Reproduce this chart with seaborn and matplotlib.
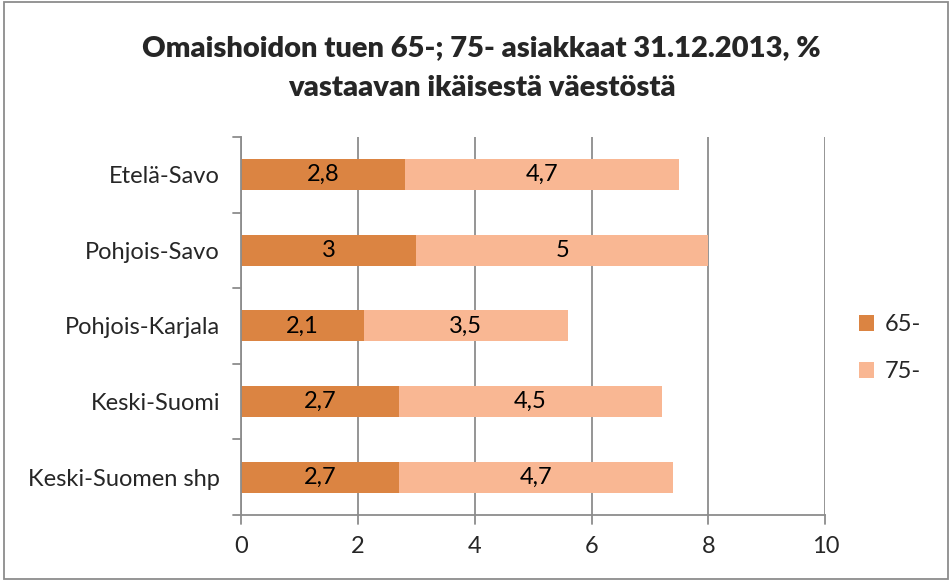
import matplotlib
matplotlib.use("Agg")
import matplotlib.pyplot as plt
import seaborn as sns
import pandas as pd
from matplotlib.patches import Patch, Rectangle

categories = ["Etelä-Savo", "Pohjois-Savo", "Pohjois-Karjala", "Keski-Suomi", "Keski-Suomen shp"]
s65 = [2.8, 3.0, 2.1, 2.7, 2.7]
s75 = [4.7, 5.0, 3.5, 4.5, 4.7]
labels65 = ["2,8", "3", "2,1", "2,7", "2,7"]
labels75 = ["4,7", "5", "3,5", "4,5", "4,7"]
series_names = ["65-", "75-"]
xticks = [0, 2, 4, 6, 8, 10]

c65 = "#DB8442"
c75 = "#F9B793"
grey = "#8C8C8C"

sns.set_style("white")
plt.rcParams["font.family"] = ["Lato", "DejaVu Sans"]

df = pd.DataFrame({"cat": categories, "s65": s65, "s75": s75})
df["total"] = df["s65"] + df["s75"]

fig = plt.figure(figsize=(9.52, 5.8), dpi=100)
ax = fig.add_axes([0.253, 0.112, 0.614, 0.652])

sns.barplot(data=df, y="cat", x="total", color=c75, width=0.41, ax=ax, saturation=1, orient="h", linewidth=0)
sns.barplot(data=df, y="cat", x="s65", color=c65, width=0.41, ax=ax, saturation=1, orient="h", linewidth=0)

fs = 17
for i in range(len(categories)):
    ax.text(s65[i] / 2, i, labels65[i], ha="center", va="center", fontsize=fs, color="black")
    ax.text(s65[i] + s75[i] / 2, i, labels75[i], ha="center", va="center", fontsize=fs, color="black")

ax.set_xlim(0, 10)
ax.set_ylim(len(categories) - 0.5, -0.5)
ax.set_xticks(xticks)
ax.set_xticklabels([str(t) for t in xticks], fontsize=fs)
ax.set_xlabel("")
ax.set_ylabel("")
ax.set_yticks(range(len(categories)))
ax.set_yticklabels(categories, fontsize=fs)
ax.tick_params(axis="y", length=0, pad=15)
ax.tick_params(axis="x", length=0, pad=15)

# boundary tick marks
for b in [i - 0.5 for i in range(len(categories) + 1)]:
    ax.plot([-0.14, 0], [b, b], color=grey, lw=1.3, clip_on=False, zorder=5)
for t in xticks:
    ax.plot([t, t], [len(categories) - 0.5, len(categories) - 0.5 + 0.12], color=grey, lw=1.3, clip_on=False, zorder=5)

ax.grid(axis="x", color=grey, lw=1.3)
ax.set_axisbelow(True)
for s in ["top", "right"]:
    ax.spines[s].set_visible(False)
for s in ["left", "bottom"]:
    ax.spines[s].set_color(grey)
    ax.spines[s].set_linewidth(1.3)

fig.text(0.506, 0.917, "Omaishoidon tuen 65-; 75- asiakkaat 31.12.2013, %", ha="center", va="center",
         fontsize=21, fontweight="heavy")
fig.text(0.506, 0.848, "vastaavan ikäisestä väestöstä", ha="center", va="center",
         fontsize=21, fontweight="heavy")

handles = [Patch(facecolor=c65, edgecolor="none"), Patch(facecolor=c75, edgecolor="none")]
fig.legend(handles, series_names, loc="center left", bbox_to_anchor=(0.880, 0.40), frameon=False,
           fontsize=fs, handlelength=0.65, handleheight=0.65, labelspacing=1.1, handletextpad=0.45)

fig.patches.append(Rectangle((0.004, 0.002), 0.992, 0.995, transform=fig.transFigure, fill=False,
                             edgecolor=grey, lw=1.3))

fig.savefig("out.png", dpi=100)
